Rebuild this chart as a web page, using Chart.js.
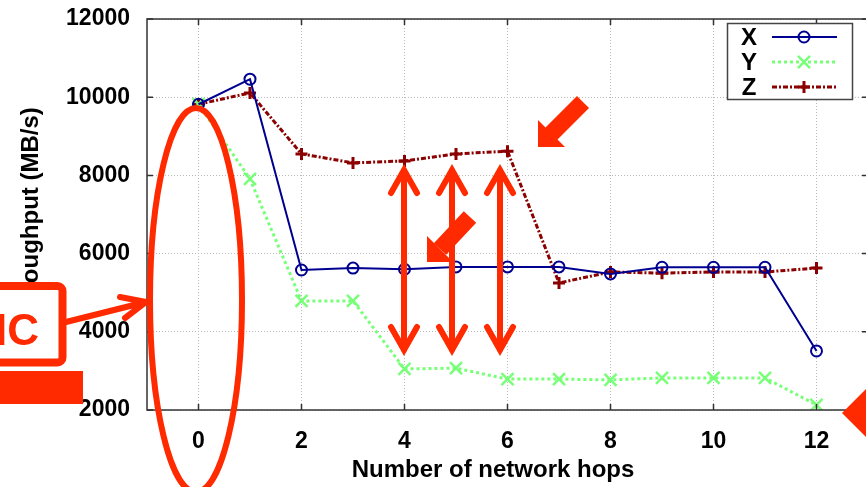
<!DOCTYPE html>
<html>
<head>
<meta charset="utf-8">
<script src="https://cdn.jsdelivr.net/npm/chart.js@4.4.0/dist/chart.umd.min.js"></script>
<style>
  html, body { margin: 0; padding: 0; background: #fff; overflow: hidden; }
  #wrap { width: 879px; height: 487px; position: relative; }
</style>
</head>
<body>
<div id="wrap"><canvas id="chart"></canvas></div>
<script>
// data
const hops = [0, 1, 2, 3, 4, 5, 6, 7, 8, 9, 10, 11, 12];
const seriesX = [9820, 10460, 5580, 5630, 5600, 5660, 5660, 5660, 5480, 5650, 5650, 5650, 3510];
const seriesY = [9820, 7910, 4790, 4790, 3050, 3070, 2790, 2790, 2770, 2820, 2820, 2820, 2130];
const seriesZ = [9820, 10110, 8550, 8320, 8370, 8550, 8620, 5250, 5530, 5500, 5530, 5530, 5630];
const xTicks = [0, 2, 4, 6, 8, 10, 12];
const yTicks = [2000, 4000, 6000, 8000, 10000, 12000];

const FONT = '"Liberation Sans", Arial, Helvetica, sans-serif';
const RED = '#ff2a00';

const toPoints = vals => hops.map((h, i) => ({ x: h, y: vals[i] }));

function drawMarker(ctx, style, x, y, r, color, lw) {
  ctx.save();
  ctx.strokeStyle = color;
  ctx.lineWidth = lw;
  ctx.setLineDash([]);
  ctx.beginPath();
  if (style === 'circle') {
    ctx.arc(x, y, r, 0, Math.PI * 2);
  } else if (style === 'cross') {
    ctx.moveTo(x - r, y); ctx.lineTo(x + r, y);
    ctx.moveTo(x, y - r); ctx.lineTo(x, y + r);
  } else if (style === 'crossRot') {
    const d = r * Math.SQRT1_2;
    ctx.moveTo(x - d, y - d); ctx.lineTo(x + d, y + d);
    ctx.moveTo(x - d, y + d); ctx.lineTo(x + d, y - d);
  }
  ctx.stroke();
  ctx.restore();
}

// frame + inward ticks, like gnuplot
const framePlugin = {
  id: 'frame',
  afterDatasetsDraw(chart) {
    const { ctx, chartArea: a, scales } = chart;
    ctx.save();
    ctx.strokeStyle = '#333';
    ctx.lineWidth = 1.5;
    ctx.strokeRect(a.left, a.top, a.right - a.left, a.bottom - a.top);
    ctx.beginPath();
    xTicks.forEach(t => {
      const px = scales.x.getPixelForValue(t);
      ctx.moveTo(px, a.bottom); ctx.lineTo(px, a.bottom - 6);
      ctx.moveTo(px, a.top); ctx.lineTo(px, a.top + 6);
    });
    yTicks.forEach(t => {
      const py = scales.y.getPixelForValue(t);
      ctx.moveTo(a.left, py); ctx.lineTo(a.left + 6, py);
      ctx.moveTo(a.right, py); ctx.lineTo(a.right - 6, py);
    });
    ctx.stroke();
    ctx.restore();
  }
};

// gnuplot style key box
const keyPlugin = {
  id: 'key',
  afterDatasetsDraw(chart) {
    const { ctx } = chart;
    ctx.save();
    ctx.fillStyle = '#fff';
    ctx.fillRect(727, 23, 125, 76);
    ctx.strokeStyle = '#444';
    ctx.lineWidth = 1.5;
    ctx.strokeRect(727.5, 23.5, 125, 76);
    chart.data.datasets.forEach((ds, i) => {
      const y = 37 + i * 25;
      ctx.fillStyle = '#000';
      ctx.font = 'bold 24px ' + FONT;
      ctx.textAlign = 'center';
      ctx.textBaseline = 'middle';
      ctx.fillText(ds.label, 749, y + 1);
      ctx.strokeStyle = ds.borderColor;
      ctx.lineWidth = ds.borderWidth;
      ctx.setLineDash(ds.borderDash || []);
      ctx.beginPath();
      ctx.moveTo(772, y); ctx.lineTo(837, y);
      ctx.stroke();
      ctx.setLineDash([]);
      drawMarker(ctx, ds.pointStyle, 804, y, ds.pointRadius, ds.borderColor, ds.pointBorderWidth);
    });
    ctx.restore();
  }
};

// red markup drawn over the figure
const markupPlugin = {
  id: 'markup',
  afterDraw(chart) {
    const { ctx } = chart;
    ctx.save();

    // x axis title
    ctx.fillStyle = '#000';
    ctx.font = 'bold 24px ' + FONT;
    ctx.textAlign = 'center';
    ctx.textBaseline = 'middle';
    ctx.fillText('Number of network hops', 493, 470);

    ctx.strokeStyle = RED;
    ctx.fillStyle = RED;

    // ellipse round hop 0
    ctx.lineWidth = 6;
    ctx.beginPath();
    ctx.ellipse(196, 300, 46, 192, 0, 0, Math.PI * 2);
    ctx.stroke();

    // double headed arrows
    ctx.lineWidth = 6;
    ctx.lineCap = 'round';
    ctx.lineJoin = 'miter';
    [404, 452, 500].forEach(x => {
      ctx.beginPath();
      ctx.moveTo(x, 170); ctx.lineTo(x, 350);
      ctx.moveTo(x - 13, 193); ctx.lineTo(x, 170); ctx.lineTo(x + 13, 193);
      ctx.moveTo(x - 13, 327); ctx.lineTo(x, 350); ctx.lineTo(x + 13, 327);
      ctx.stroke();
    });

    // block arrows
    ctx.lineCap = 'butt';
    ctx.lineWidth = 17;
    ctx.beginPath();
    ctx.moveTo(583, 102); ctx.lineTo(551, 134);
    ctx.moveTo(470, 217); ctx.lineTo(440, 249);
    ctx.stroke();
    ctx.beginPath();
    ctx.moveTo(538, 147); ctx.lineTo(538, 120); ctx.lineTo(565, 147); ctx.closePath();
    ctx.moveTo(427, 262); ctx.lineTo(427, 236); ctx.lineTo(453, 262); ctx.closePath();
    ctx.moveTo(842, 413); ctx.lineTo(872, 383); ctx.lineTo(872, 443); ctx.closePath();
    ctx.fill();

    // IC box
    ctx.lineWidth = 8;
    ctx.lineJoin = 'round';
    ctx.beginPath();
    ctx.roundRect(-10, 286, 72.5, 76.5, 5);
    ctx.fillStyle = '#fff';
    ctx.fill();
    ctx.stroke();
    ctx.fillStyle = RED;
    ctx.font = 'bold 44px ' + FONT;
    ctx.textAlign = 'right';
    ctx.textBaseline = 'alphabetic';
    ctx.fillText('IC', 39, 345);
    ctx.fillRect(0, 371, 83, 33);

    // arrow from box to ellipse
    ctx.lineWidth = 6;
    ctx.lineCap = 'round';
    ctx.lineJoin = 'miter';
    ctx.beginPath();
    ctx.moveTo(66, 322); ctx.lineTo(146, 302);
    ctx.moveTo(120, 297); ctx.lineTo(146, 302); ctx.lineTo(125, 318);
    ctx.stroke();

    ctx.restore();
  }
};

new Chart(document.getElementById('chart'), {
  type: 'line',
  data: {
    datasets: [
      {
        label: 'X',
        data: toPoints(seriesX),
        borderColor: '#000090',
        borderWidth: 2,
        pointStyle: 'circle',
        pointRadius: 5.5,
        pointBorderWidth: 2,
        pointBackgroundColor: 'rgba(0,0,0,0)'
      },
      {
        label: 'Y',
        data: toPoints(seriesY),
        borderColor: '#78ff78',
        borderWidth: 3,
        borderDash: [3, 3],
        pointStyle: 'crossRot',
        pointRadius: 8.5,
        pointBorderWidth: 2.5
      },
      {
        label: 'Z',
        data: toPoints(seriesZ),
        borderColor: '#8b0000',
        borderWidth: 3,
        borderDash: [5, 2, 2, 2],
        pointStyle: 'cross',
        pointRadius: 6,
        pointBorderWidth: 3
      }
    ]
  },
  options: {
    responsive: true,
    maintainAspectRatio: false,
    animation: false,
    layout: { padding: { top: 19, left: 0, right: 0, bottom: 0 } },
    plugins: { legend: { display: false }, tooltip: { enabled: false } },
    scales: {
      x: {
        type: 'linear',
        min: -1,
        max: 13,
        afterBuildTicks: s => { s.ticks = xTicks.map(v => ({ value: v })); },
        afterFit: s => { s.height = 77; },
        grid: { color: '#b8b8b8', lineWidth: 1, drawTicks: true, tickLength: 18, tickColor: 'rgba(0,0,0,0)' },
        border: { display: false, dash: [1, 2] },
        ticks: { color: '#000', padding: 0, font: { family: FONT, size: 23, weight: 'bold' } }
      },
      y: {
        min: 2000,
        max: 12000,
        afterBuildTicks: s => { s.ticks = yTicks.map(v => ({ value: v })); },
        afterFit: s => { s.width = 147; },
        grid: { color: '#b8b8b8', lineWidth: 1, drawTicks: true, tickLength: 17, tickColor: 'rgba(0,0,0,0)' },
        border: { display: false, dash: [1, 2] },
        ticks: { color: '#000', padding: 0, callback: v => String(v), font: { family: FONT, size: 23, weight: 'bold' } },
        title: { display: true, text: 'Throughput (MB/s)', color: '#000', padding: { top: 17, bottom: 0 }, font: { family: FONT, size: 24, weight: 'bold' } }
      }
    }
  },
  plugins: [framePlugin, keyPlugin, markupPlugin]
});
</script>
</body>
</html>
